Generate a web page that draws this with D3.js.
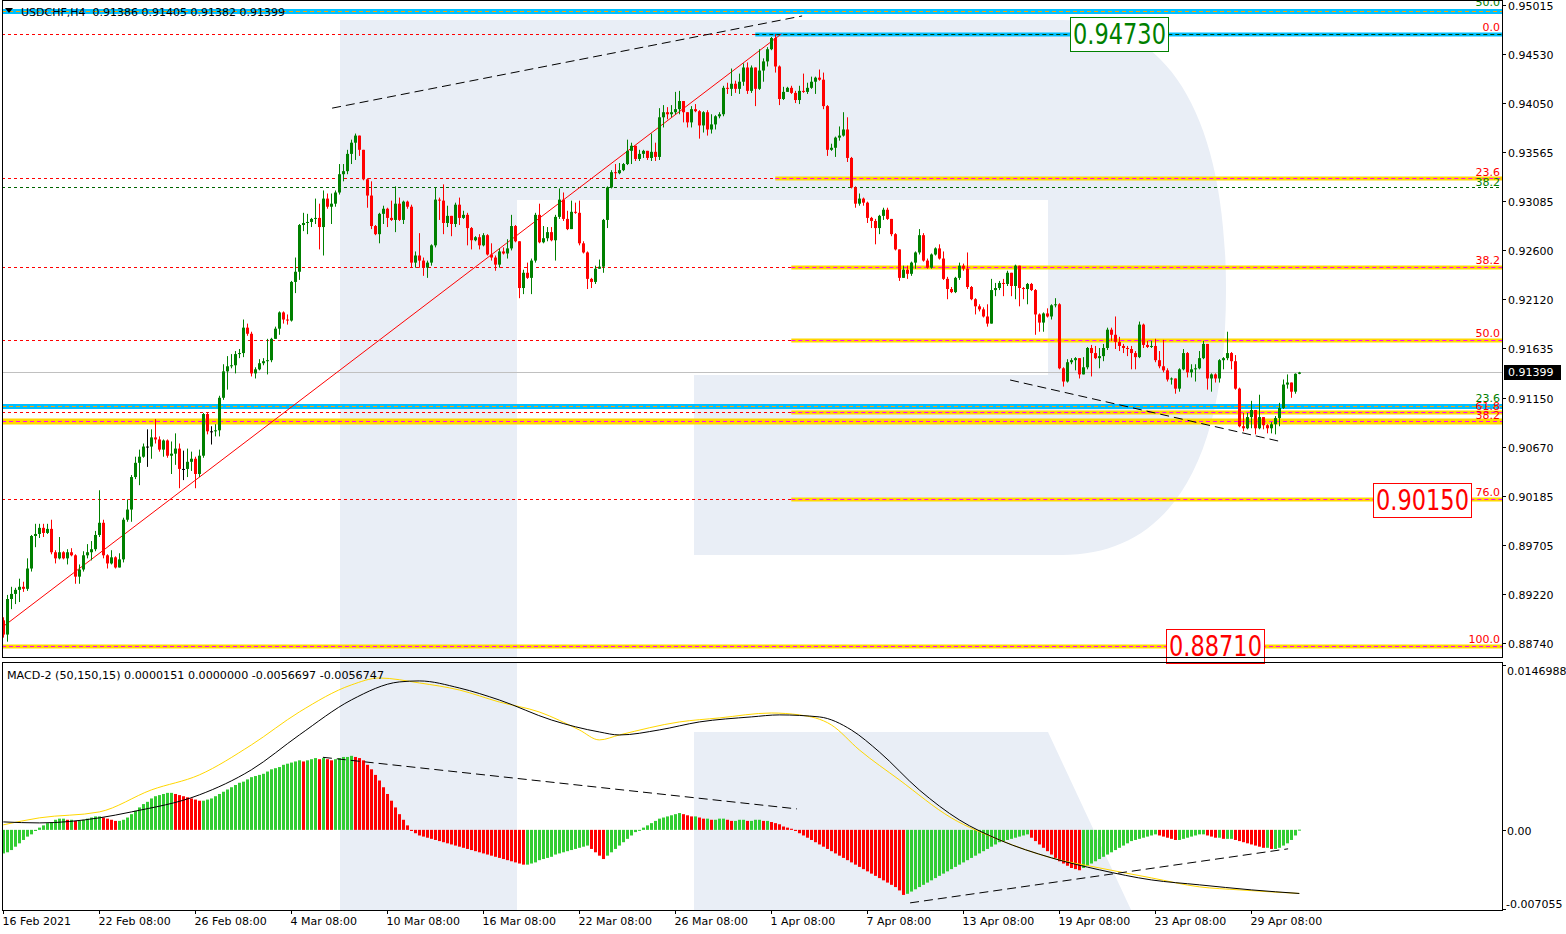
<!DOCTYPE html>
<html><head><meta charset="utf-8">
<script src="https://cdn.jsdelivr.net/npm/d3@7"></script>
<style>
body{margin:0;background:#fff}
svg{display:block}
text{font-family:"DejaVu Sans",sans-serif;white-space:pre}
</style></head>
<body><svg id="c" width="1566" height="934"></svg>
<script>
// ---------------- DATA ----------------
const firstOpen = .8896;
const closes = [
.8882,.8917,.8922,.8926,.8929,.8927,.8947,.8979,.8981,.8987,
.8982,.8986,.8963,.8957,.8963,.8957,.8963,.8960,.8939,.8946,
.8960,.8963,.8966,.8980,.8992,.8960,.8952,.8958,.8948,.8956,
.8995,.9005,.9037,.9051,.9057,.9067,.9067,.9076,.9074,.9064,
.9073,.9058,.9060,.9065,.9045,.9045,.9052,.9055,.9040,.9058,
.9099,.9082,.9082,.9083,.9115,.9141,.9146,.9147,.9158,.9159,
.9184,.9178,.9139,.9143,.9149,.9151,.9152,.9173,.9183,.9199,
.9192,.9191,.9229,.9239,.9285,.9287,.9288,.9291,.9292,.9283,
.9311,.9303,.9306,.9317,.9335,.9338,.9355,.9366,.9373,.9359,
.9330,.9314,.9284,.9276,.9296,.9301,.9292,.9290,.9306,.9290,
.9308,.9303,.9248,.9255,.9250,.9243,.9248,.9265,.9310,.9309,
.9287,.9294,.9286,.9305,.9292,.9295,.9282,.9270,.9273,.9265,
.9275,.9256,.9253,.9246,.9259,.9257,.9262,.9284,.9269,.9223,
.9238,.9233,.9250,.9295,.9268,.9272,.9278,.9270,.9293,.9310,
.9291,.9281,.9298,.9297,.9267,.9258,.9232,.9229,.9242,.9244,
.9290,.9322,.9337,.9336,.9339,.9345,.9358,.9363,.9350,.9355,
.9358,.9351,.9357,.9352,.9391,.9396,.9394,.9396,.9399,.9407,
.9396,.9386,.9399,.9397,.9383,.9396,.9379,.9384,.9392,.9394,
.9420,.9419,.9424,.9419,.9426,.9440,.9417,.9440,.9419,.9437,
.9446,.9458,.9469,.9441,.9409,.9416,.9420,.9415,.9408,.9417,
.9416,.9420,.9426,.9430,.9428,.9402,.9359,.9361,.9371,.9373,
.9379,.9351,.9322,.9306,.9311,.9307,.9292,.9289,.9282,.9294,
.9300,.9291,.9276,.9261,.9233,.9241,.9237,.9248,.9258,.9275,
.9250,.9243,.9256,.9262,.9252,.9232,.9222,.9219,.9233,.9245,
.9242,.9224,.9212,.9205,.9202,.9195,.9188,.9221,.9223,.9228,
.9227,.9238,.9225,.9245,.9223,.9222,.9227,.9221,.9197,.9189,
.9198,.9195,.9206,.9207,.9144,.9131,.9150,.9152,.9154,.9138,
.9145,.9164,.9159,.9154,.9156,.9164,.9182,.9177,.9170,.9166,
.9164,.9163,.9159,.9155,.9187,.9167,.9165,.9166,.9152,.9146,
.9142,.9133,.9134,.9124,.9143,.9159,.9140,.9143,.9144,.9154,
.9168,.9134,.9138,.9134,.9152,.9154,.9159,.9151,.9124,.9087,
.9085,.9096,.9103,.9085,.9096,.9088,.9085,.9089,.9095,.9105,
.9128,.9130,.9121,.91386,.91399];
const highs = [
.8899,.8921,.8929,.8928,.8937,.8934,.8957,.8980,.8991,.8991,
.8991,.8991,.8995,.8965,.8978,.8964,.8966,.8967,.8961,.8951,
.8964,.8971,.8974,.8984,.9024,.8995,.8961,.8965,.8959,.8962,
.8997,.9015,.9039,.9057,.9064,.9070,.9084,.9084,.9094,.9077,
.9074,.9074,.9072,.9080,.9070,.9063,.9065,.9062,.9057,.9064,
.9100,.9100,.9087,.9089,.9117,.9148,.9156,.9158,.9161,.9163,
.9192,.9188,.9180,.9145,.9153,.9154,.9173,.9174,.9185,.9200,
.9200,.9197,.9230,.9253,.9286,.9297,.9296,.9292,.9311,.9306,
.9319,.9316,.9316,.9319,.9345,.9345,.9359,.9369,.9375,.9373,
.9359,.9331,.9328,.9285,.9297,.9304,.9302,.9309,.9323,.9312,
.9309,.9309,.9305,.9259,.9277,.9253,.9250,.9266,.9322,.9312,
.9325,.9304,.9292,.9307,.9312,.9299,.9297,.9283,.9274,.9276,
.9277,.9276,.9267,.9255,.9262,.9263,.9271,.9295,.9285,.9269,
.9241,.9248,.9252,.9297,.9306,.9284,.9283,.9283,.9295,.9321,
.9317,.9299,.9309,.9307,.9309,.9269,.9259,.9233,.9245,.9251,
.9291,.9323,.9339,.9345,.9346,.9346,.9369,.9366,.9363,.9359,
.9359,.9358,.9375,.9366,.9400,.9403,.9401,.9403,.9416,.9417,
.9407,.9396,.9402,.9404,.9398,.9397,.9398,.9394,.9393,.9396,
.9422,.9425,.9439,.9427,.9434,.9444,.9445,.9442,.9439,.9458,
.9449,.9460,.9470,.9473,.9442,.9421,.9421,.9422,.9417,.9422,
.9434,.9425,.9431,.9431,.9438,.9435,.9403,.9365,.9372,.9382,
.9396,.9391,.9352,.9323,.9316,.9312,.9308,.9293,.9291,.9295,
.9302,.9302,.9291,.9277,.9261,.9245,.9245,.9249,.9259,.9281,
.9277,.9252,.9257,.9263,.9266,.9259,.9234,.9224,.9234,.9248,
.9247,.9258,.9225,.9213,.9207,.9204,.9207,.9232,.9228,.9230,
.9232,.9240,.9238,.9246,.9245,.9224,.9228,.9228,.9222,.9198,
.9199,.9203,.9207,.9213,.9208,.9145,.9153,.9154,.9155,.9154,
.9155,.9165,.9167,.9166,.9164,.9168,.9184,.9184,.9195,.9175,
.9168,.9166,.9166,.9161,.9190,.9188,.9171,.9171,.9173,.9161,
.9172,.9144,.9135,.9134,.9144,.9163,.9160,.9148,.9148,.9161,
.9171,.9167,.9139,.9139,.9153,.9155,.9180,.9160,.9157,.9125,
.9100,.9100,.9112,.9103,.9118,.9096,.9089,.9091,.9097,.9110,
.9133,.9138,.9130,.9139,.91405];
const lows = [
.8879,.8875,.8907,.8912,.8914,.8924,.8925,.8944,.8968,.8977,
.8978,.8981,.8961,.8952,.8956,.8956,.8951,.8959,.8932,.8932,
.8944,.8957,.8955,.8964,.8978,.8957,.8947,.8951,.8947,.8948,
.8953,.8993,.8993,.9035,.9029,.9056,.9047,.9055,.9070,.9062,
.9057,.9056,.9040,.9049,.9026,.9034,.9037,.9043,.9026,.9037,
.9056,.9079,.9069,.9077,.9077,.9113,.9123,.9144,.9139,.9154,
.9155,.9176,.9136,.9134,.9142,.9147,.9138,.9150,.9177,.9177,
.9188,.9187,.9190,.9218,.9231,.9279,.9276,.9283,.9286,.9261,
.9255,.9301,.9286,.9303,.9315,.9328,.9335,.9345,.9349,.9353,
.9329,.9302,.9281,.9275,.9267,.9286,.9283,.9289,.9278,.9289,
.9286,.9301,.9243,.9243,.9243,.9235,.9233,.9245,.9263,.9290,
.9276,.9283,.9274,.9283,.9285,.9291,.9265,.9261,.9269,.9261,
.9264,.9255,.9250,.9240,.9243,.9256,.9252,.9260,.9268,.9213,
.9217,.9232,.9217,.9248,.9267,.9267,.9269,.9269,.9250,.9291,
.9289,.9280,.9286,.9296,.9265,.9257,.9222,.9223,.9227,.9242,
.9238,.9282,.9321,.9331,.9335,.9338,.9344,.9345,.9348,.9348,
.9351,.9349,.9348,.9348,.9349,.9381,.9389,.9391,.9394,.9394,
.9386,.9381,.9381,.9396,.9370,.9376,.9373,.9375,.9379,.9390,
.9392,.9414,.9412,.9415,.9414,.9422,.9414,.9415,.9402,.9418,
.9426,.9441,.9457,.9435,.9403,.9408,.9416,.9414,.9405,.9404,
.9415,.9414,.9419,.9414,.9427,.9399,.9353,.9358,.9352,.9368,
.9372,.9347,.9321,.9302,.9304,.9304,.9287,.9282,.9266,.9276,
.9290,.9290,.9274,.9260,.9230,.9233,.9232,.9235,.9242,.9256,
.9249,.9242,.9242,.9255,.9251,.9231,.9212,.9218,.9218,.9231,
.9240,.9222,.9211,.9197,.9200,.9194,.9185,.9188,.9215,.9221,
.9215,.9225,.9215,.9212,.9205,.9212,.9207,.9220,.9177,.9180,
.9180,.9194,.9192,.9204,.9143,.9126,.9130,.9148,.9142,.9134,
.9138,.9143,.9136,.9153,.9144,.9151,.9162,.9171,.9163,.9161,
.9159,.9156,.9143,.9143,.9154,.9164,.9164,.9164,.9150,.9144,
.9140,.9131,.9128,.9119,.9121,.9142,.9135,.9135,.9131,.9143,
.9153,.9123,.9121,.9130,.9130,.9143,.9152,.9143,.9123,.9086,
.9082,.9084,.9085,.9079,.9084,.9084,.9080,.9080,.9079,.9087,
.9104,.9124,.9115,.9119,.91382];

const macdHist = [
-0.0021,-0.0020,-0.0018,-0.0015,-0.0012,-0.0009,-0.0006,-0.0004,-0.0001,
0.0002,0.0004,0.0006,0.0007,0.0009,0.0010,0.0010,0.0009,0.0009,0.0008,0.0008,0.0009,0.0010,0.0011,0.0012,0.0012,0.0011,0.0010,0.0009,0.0008,0.0008,
0.0009,0.0011,0.0014,0.0017,0.0020,0.0023,0.0025,0.0028,0.0030,0.0031,0.0032,0.0033,0.0033,
0.0032,0.0031,0.0030,0.0029,0.0028,0.0027,0.0026,0.0026,
0.0027,0.0028,0.0030,0.0032,0.0034,0.0036,0.0038,0.0040,0.0042,0.0043,0.0045,0.0047,0.0048,0.0049,0.0050,0.0052,0.0054,0.0055,0.0056,0.0058,0.0059,0.0060,0.0061,0.0062,
0.0061,0.0062,0.0063,0.0064,
0.0063,0.0064,0.0063,0.0062,0.0063,0.0064,0.0065,0.0065,0.0066,0.0065,0.0064,0.0062,
0.0058,0.0054,0.0049,0.0044,0.0038,0.0032,0.0026,0.0020,0.0014,0.0009,0.0004,
-0.0001,-0.0003,-0.0005,-0.0006,-0.0007,-0.0008,-0.0009,-0.0010,-0.0011,-0.0012,-0.0013,-0.0014,-0.0015,-0.0016,-0.0017,
-0.0018,-0.0019,-0.0020,-0.0021,-0.0022,-0.0023,-0.0024,-0.0025,-0.0026,-0.0027,-0.0028,-0.0029,-0.0030,-0.0031,-0.0031,
-0.0030,-0.0029,-0.0027,-0.0026,-0.0025,-0.0024,-0.0022,-0.0021,-0.0020,-0.0019,-0.0018,-0.0017,-0.0016,-0.0015,-0.0014,
-0.0017,-0.0020,-0.0023,-0.0026,
-0.0023,-0.0020,-0.0017,-0.0014,-0.0011,-0.0008,-0.0005,-0.0002,0.0000,
0.0002,0.0004,0.0006,0.0008,0.0010,0.0011,0.0012,0.0013,0.0014,0.0015,
0.0014,0.0013,0.0012,0.0012,0.0011,0.0010,0.0010,0.0009,0.0009,0.0010,0.0010,0.0009,0.0008,0.0008,0.0009,0.0009,0.0008,0.0008,0.0009,0.0009,0.0008,0.0008,0.0007,0.0006,
0.0005,0.0003,0.0002,0.0001,
-0.0001,-0.0003,-0.0005,-0.0007,-0.0009,-0.0011,-0.0013,-0.0015,-0.0017,-0.0019,-0.0021,-0.0023,-0.0025,-0.0027,-0.0029,-0.0031,-0.0033,-0.0035,-0.0037,-0.0039,-0.0041,-0.0043,-0.0045,-0.0047,-0.0049,-0.0051,-0.0054,-0.0058,
-0.0057,-0.0055,-0.0053,-0.0051,-0.0049,-0.0047,-0.0045,-0.0043,-0.0041,-0.0039,-0.0037,-0.0035,-0.0033,-0.0031,-0.0029,-0.0027,-0.0025,-0.0023,-0.0021,-0.0019,-0.0017,-0.0015,-0.0013,-0.0011,-0.0010,-0.0009,-0.0008,-0.0007,-0.0006,-0.0005,-0.0004,
-0.0007,-0.0010,-0.0013,-0.0016,-0.0019,-0.0022,-0.0025,-0.0028,-0.0030,-0.0032,-0.0034,-0.0035,-0.0036,
-0.0034,-0.0032,-0.0030,-0.0028,-0.0026,-0.0024,-0.0022,-0.0020,-0.0018,-0.0016,-0.0014,-0.0012,-0.0010,-0.0009,-0.0008,-0.0007,-0.0006,-0.0005,-0.0004,
-0.0005,-0.0006,-0.0007,-0.0008,-0.0009,-0.0009,
-0.0008,-0.0007,-0.0006,-0.0005,-0.0004,-0.0004,
-0.0005,-0.0006,-0.0007,-0.0007,-0.0008,-0.0008,-0.0008,
-0.0009,-0.0010,-0.0011,-0.0012,-0.0013,-0.0014,-0.0015,-0.0016,-0.0016,-0.0017,-0.0017,-0.0016,-0.0014,-0.0012,
-0.0009,-0.0005,0.00002];

const mainLineBars = [0,9,24,32,49,62,74,87,99,104,114,124,137,149,154,164,174,187,194,204,212,219,229,239,249,262,274,287,299,312,324];
const mainLineVals = [0.00071,0.00062,0.00107,0.00160,0.00312,0.00535,0.00846,0.01158,0.01319,0.01328,0.01265,0.01158,0.00980,0.00873,0.00846,0.00891,0.00962,0.01007,0.01025,0.01007,0.00891,0.00695,0.00356,0.00089,-0.00089,-0.00249,-0.00356,-0.00446,-0.00490,-0.00535,-0.00567];
const signalBars = [0,9,24,37,49,62,74,87,94,104,114,124,134,144,149,154,169,179,192,199,207,214,224,237,249,262,274,287,299,309,324];
const signalVals = [0.00045,0.00107,0.00160,0.00356,0.00490,0.00757,0.01051,0.01292,0.01354,0.01310,0.01247,0.01140,0.01051,0.00891,0.00802,0.00846,0.00962,0.00998,0.01042,0.01025,0.00936,0.00713,0.00446,0.00107,-0.00089,-0.00249,-0.00339,-0.00428,-0.00508,-0.00535,-0.00567];

const timeLabels = ["16 Feb 2021","22 Feb 08:00","26 Feb 08:00","4 Mar 08:00","10 Mar 08:00","16 Mar 08:00","22 Mar 08:00","26 Mar 08:00","1 Apr 08:00","7 Apr 08:00","13 Apr 08:00","19 Apr 08:00","23 Apr 08:00","29 Apr 08:00"];
const timeLabelBars = [0,24,48,72,96,120,144,168,192,216,240,264,288,312];
const priceTicks = [0.95015,0.94530,0.94050,0.93565,0.93085,0.92600,0.92120,0.91635,0.91150,0.90670,0.90185,0.89705,0.89220,0.88740];
const macdTickVals = [0.0146988,0,-0.007055];
const macdTickText = ["0.0146988","0.00","-0.007055"];

// fib / level lines
const redFibPrices = [0.9473,0.93315,0.9244,0.9172,0.9101,0.9015];
const yellowFibPrices = [0.93315,0.9244,0.9172,0.9101,0.9015];
const yellowFibStart = [193,197,197,197,197];
const greenFibPrice = 0.93224;
const blueBandPrices = [0.9496,0.9107];
const topBluePrice = 0.9473, topBlueStart = 188;
const yellowFullPrices = [0.9092,0.8871];
const levelLabels = [
 {t:"50.0",p:0.9496,c:"#008000",dy:-5},{t:"0.0",p:0.9473,c:"#ff0000",dy:-3},
 {t:"23.6",p:0.93315,c:"#ff0000",dy:-2},{t:"38.2",p:0.93224,c:"#008000",dy:-1},
 {t:"38.2",p:0.9244,c:"#ff0000",dy:-3},{t:"50.0",p:0.9172,c:"#ff0000",dy:-3},
 {t:"23.6",p:0.9107,c:"#008000",dy:-4},{t:"61.8",p:0.9101,c:"#ff0000",dy:-2},
 {t:"38.2",p:0.9092,c:"#ff0000",dy:-2},{t:"76.0",p:0.9015,c:"#ff0000",dy:-3},
 {t:"100.0",p:0.8871,c:"#ff0000",dy:-3}];
const priceBoxes = [
 {t:"0.94730",p:0.9473,bar:266.7,c:"#008000"},
 {t:"0.90150",p:0.9015,bar:342.4,c:"#ff0000"},
 {t:"0.88710",p:0.8871,bar:290.7,c:"#ff0000"}];
const lastPrice = 0.91399;
const trendLines = [
 {b1:0,p1:0.8890,b2:194.5,p2:0.9473,c:"#ff0000",dash:null},
 {b1:82.2,p1:0.9400,b2:199.7,p2:0.94907,c:"#000",dash:"9,5"},
 {b1:251.7,p1:0.91325,b2:318.7,p2:0.90725,c:"#000",dash:"9,5"}];
const macdTrendLines = [
 {b1:79.9,v1:0.00647,b2:198.4,v2:0.00187},
 {b1:226.7,v1:-0.00651,b2:321.2,v2:-0.00169}];

// ---------------- SCALES ----------------
const svg = d3.select("#c");
const L=2, R=1502, mTop=0.5, mBot=657, dTop=662, dBot=910;
const x = d3.scaleLinear().domain([0,324]).range([3.3,1299.3]);
const y = d3.scaleLinear().domain([0.88740,0.95015]).range([642.7,5]);
const ym = d3.scaleLinear().domain([-0.007055,0.0146988]).range([909,665]);

const defs = svg.append("defs");
defs.append("clipPath").attr("id","cm").append("rect").attr("x",L).attr("y",mTop).attr("width",R-L).attr("height",mBot-mTop);
defs.append("clipPath").attr("id","cd").append("rect").attr("x",L).attr("y",dTop).attr("width",R-L).attr("height",dBot-dTop);

// watermark
const wm="#e9eef6";
const gm = svg.append("g").attr("clip-path","url(#cm)");
gm.append("path").attr("fill",wm)
 .attr("d","M340,20 H1062 C1165,20 1226,110 1226,290 C1226,470 1165,555 1062,555 H694 V375 H1048 V200 H517 V660 H340 Z");
const gd = svg.append("g").attr("clip-path","url(#cd)");
gd.append("rect").attr("fill",wm).attr("x",340).attr("y",dTop).attr("width",177).attr("height",dBot-dTop);
gd.append("path").attr("fill",wm).attr("d","M694,732 H1048 L1132,912 H694 Z");

// ---------------- MAIN PANEL ----------------
const xr = R;
gm.selectAll(".rf").data(redFibPrices).join("line")
 .attr("x1",L).attr("x2",xr).attr("y1",d=>Math.round(y(d))+0.5).attr("y2",d=>Math.round(y(d))+0.5)
 .attr("stroke","#ff0000").attr("stroke-dasharray","3,3");
gm.append("line").attr("x1",L).attr("x2",xr).attr("y1",Math.round(y(greenFibPrice))+0.5).attr("y2",Math.round(y(greenFibPrice))+0.5)
 .attr("stroke","#006400").attr("stroke-dasharray","3,3");
gm.append("line").attr("x1",L).attr("x2",xr).attr("y1",Math.round(y(lastPrice))+0.5).attr("y2",Math.round(y(lastPrice))+0.5).attr("stroke","#c0c0c0");
blueBandPrices.forEach(p=>{
 const yy=Math.round(y(p))+0.5;
 gm.append("line").attr("x1",L).attr("x2",xr).attr("y1",yy).attr("y2",yy).attr("stroke","#00bfff").attr("stroke-width",5);
 gm.append("line").attr("x1",L).attr("x2",xr).attr("y1",yy).attr("y2",yy).attr("stroke","#ffa500").attr("stroke-dasharray","4,3");
});
{
 const yy=Math.round(y(topBluePrice))+0.5;
 gm.append("line").attr("x1",x(topBlueStart)).attr("x2",xr).attr("y1",yy).attr("y2",yy).attr("stroke","#00bfff").attr("stroke-width",4);
 gm.append("line").attr("x1",x(topBlueStart)).attr("x2",xr).attr("y1",yy).attr("y2",yy).attr("stroke","#004000").attr("stroke-dasharray","4,3");
}
yellowFibPrices.forEach((p,k)=>{
 const yy=Math.round(y(p))+0.5;
 gm.append("line").attr("x1",x(yellowFibStart[k])).attr("x2",xr).attr("y1",yy).attr("y2",yy).attr("stroke","#ffd700").attr("stroke-width",4);
 gm.append("line").attr("x1",x(yellowFibStart[k])).attr("x2",xr).attr("y1",yy).attr("y2",yy).attr("stroke","#ff00ff").attr("stroke-dasharray","4,3");
});
yellowFullPrices.forEach((p,k)=>{
 const yy=Math.round(y(p))+0.5;
 gm.append("line").attr("x1",L).attr("x2",xr).attr("y1",yy).attr("y2",yy).attr("stroke","#ffd700").attr("stroke-width",k===0?6:4);
 gm.append("line").attr("x1",L).attr("x2",xr).attr("y1",yy).attr("y2",yy).attr("stroke","#ff00ff").attr("stroke-dasharray","4,3");
});
trendLines.forEach(t=>{
 const l=gm.append("line").attr("x1",x(t.b1)).attr("y1",y(t.p1)).attr("x2",x(t.b2)).attr("y2",y(t.p2)).attr("stroke",t.c).attr("stroke-width",1);
 if(t.dash) l.attr("stroke-dasharray",t.dash);
});

// candles
const bars = closes.map((c,i)=>{
 const o = i===0?firstOpen:closes[i-1];
 return {i,o,c,h:Math.max(highs[i],o,c),l:Math.min(lows[i],o,c)};
});
const colOf = d=> d.c>d.o?"#008000":(d.c<d.o?"#ff0000":"#000");
const cg = gm.append("g");
cg.selectAll(".w").data(bars).join("line")
 .attr("x1",d=>Math.round(x(d.i))+0.5).attr("x2",d=>Math.round(x(d.i))+0.5)
 .attr("y1",d=>y(d.h)).attr("y2",d=>y(d.l)).attr("stroke",colOf);
cg.selectAll(".b").data(bars).join("rect")
 .attr("x",d=>Math.round(x(d.i))-1).attr("width",3)
 .attr("y",d=>y(Math.max(d.o,d.c)))
 .attr("height",d=>Math.max(1,Math.abs(y(d.o)-y(d.c))))
 .attr("fill",colOf);

// level labels
gm.selectAll(".ll").data(levelLabels).join("text")
 .attr("x",1500).attr("y",d=>y(d.p)+d.dy).attr("text-anchor","end").attr("font-size",11)
 .attr("fill",d=>d.c).text(d=>d.t);

// price boxes
priceBoxes.forEach(b=>{
 const g=svg.append("g");
 const yc=y(b.p), x0=Math.round(x(b.bar));
 g.append("rect").attr("x",x0+0.5).attr("y",Math.round(yc-16.5)+0.5).attr("width",98).attr("height",34)
  .attr("fill","#fff").attr("stroke",b.c);
 g.append("text").attr("x",x0+3).attr("y",yc+10.5).attr("font-size",29)
  .attr("font-family","Liberation Sans, Arial, sans-serif").attr("fill",b.c)
  .attr("textLength",93).attr("lengthAdjust","spacingAndGlyphs").text(b.t);
});

// header
svg.append("path").attr("d","M5,8 L13,8 L9,13 Z").attr("fill","#000");
svg.append("text").attr("x",21).attr("y",16).attr("font-size",11).attr("fill","#000")
 .text("USDCHF,H4  0.91386 0.91405 0.91382 0.91399");

// ---------------- MACD PANEL ----------------
const hg = gd.append("g");
hg.selectAll("rect").data(macdHist).join("rect")
 .attr("x",(d,i)=>Math.round(x(i))-1).attr("width",3)
 .attr("y",d=>Math.min(ym(0),ym(d))).attr("height",d=>Math.max(1,Math.abs(ym(d)-ym(0))))
 .attr("fill",(d,i)=> (i>0 && d<macdHist[i-1])?"#ff0000":"#32cd32");
const lineGen = d3.line().curve(d3.curveMonotoneX);
gd.append("path").attr("fill","none").attr("stroke","#ffd700").attr("stroke-width",1)
 .attr("d",lineGen(signalBars.map((b,k)=>[x(b),ym(signalVals[k])])));
gd.append("path").attr("fill","none").attr("stroke","#000").attr("stroke-width",1)
 .attr("d",lineGen(mainLineBars.map((b,k)=>[x(b),ym(mainLineVals[k])])));
macdTrendLines.forEach(t=>{
 gd.append("line").attr("x1",x(t.b1)).attr("y1",ym(t.v1)).attr("x2",x(t.b2)).attr("y2",ym(t.v2))
  .attr("stroke","#000").attr("stroke-dasharray","9,5");
});
svg.append("text").attr("x",7).attr("y",679).attr("font-size",11).attr("fill","#000")
 .attr("textLength",377).attr("lengthAdjust","spacingAndGlyphs")
 .text("MACD-2 (50,150,15) 0.0000151 0.0000000 -0.0056697 -0.0056747");

// ---------------- FRAMES & AXES ----------------
svg.append("rect").attr("x",L+0.5).attr("y",0.5).attr("width",R-L).attr("height",mBot).attr("fill","none").attr("stroke","#000");
svg.append("rect").attr("x",L+0.5).attr("y",dTop+0.5).attr("width",R-L).attr("height",dBot-dTop).attr("fill","none").attr("stroke","#000");

const ya = svg.append("g");
priceTicks.forEach(p=>{
 const yy=Math.round(y(p))+0.5;
 ya.append("line").attr("x1",R).attr("x2",R+4).attr("y1",yy).attr("y2",yy).attr("stroke","#000");
 ya.append("text").attr("x",1508).attr("y",yy+4).attr("font-size",11).attr("fill","#000").text(p.toFixed(5));
});
{
 const yy=y(lastPrice);
 ya.append("rect").attr("x",R+2).attr("y",Math.round(yy)-7).attr("width",57).attr("height",15).attr("fill","#000");
 ya.append("text").attr("x",1508).attr("y",Math.round(yy)+4).attr("font-size",11).attr("fill","#fff").text(lastPrice.toFixed(5));
}
macdTickVals.forEach((v,k)=>{
 const yy=Math.round(ym(v))+0.5;
 ya.append("line").attr("x1",R).attr("x2",R+4).attr("y1",yy).attr("y2",yy).attr("stroke","#000");
 const ty = k===0? yy+9 : (k===1? yy+4 : yy-2);
 ya.append("text").attr("x",k===2?1506:1507).attr("y",ty).attr("font-size",11).attr("fill","#000").text(macdTickText[k]);
});
const xa = svg.append("g");
timeLabels.forEach((t,k)=>{
 const xx=Math.round(x(timeLabelBars[k]))+0.5;
 xa.append("line").attr("x1",xx).attr("x2",xx).attr("y1",dBot).attr("y2",dBot+4).attr("stroke","#000");
 xa.append("text").attr("x",xx-1).attr("y",925).attr("font-size",11).attr("fill","#000").text(t);
});
</script>
</body></html>
